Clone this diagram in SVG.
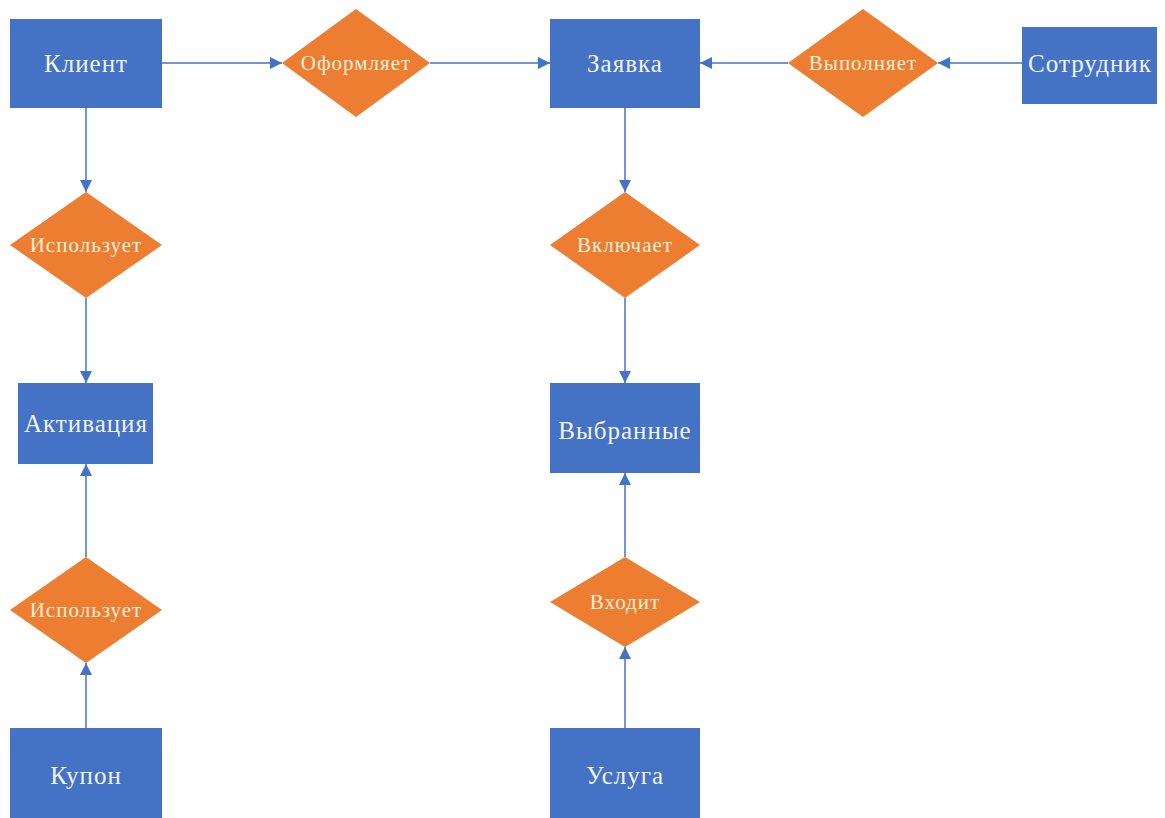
<svg xmlns="http://www.w3.org/2000/svg" width="1165" height="818" viewBox="0 0 1165 818">
<style>
.ent{fill:#4472C4}
.rel{fill:#ED7D31}
.et{font-family:"Liberation Serif","Times New Roman",serif;font-size:25px;letter-spacing:1px;fill:#F2F4FB;text-anchor:middle;dominant-baseline:central}
.rt{font-family:"Liberation Serif","Times New Roman",serif;font-size:21px;letter-spacing:1px;fill:#FFF0D8;text-anchor:middle;dominant-baseline:central}
.cn{stroke:#4472C4;stroke-width:1.5;fill:none;marker-end:url(#ah)}
</style>
<defs>
<marker id="ah" markerUnits="userSpaceOnUse" markerWidth="13" markerHeight="12" refX="12" refY="6" orient="auto">
<path d="M0,0 L12,6 L0,12 Z" fill="#4472C4"/>
</marker>
</defs>
<rect width="1165" height="818" fill="#FFFFFF"/>
<g id="connectors">
<line class="cn" x1="162" y1="63" x2="282" y2="63"/>
<line class="cn" x1="430" y1="63" x2="550" y2="63"/>
<line class="cn" x1="1022" y1="63" x2="938" y2="63"/>
<line class="cn" x1="788" y1="63" x2="700" y2="63"/>
<line class="cn" x1="86" y1="108" x2="86" y2="192"/>
<line class="cn" x1="86" y1="298" x2="86" y2="383"/>
<line class="cn" x1="86" y1="728" x2="86" y2="663"/>
<line class="cn" x1="86" y1="557" x2="86" y2="464"/>
<line class="cn" x1="625" y1="108" x2="625" y2="192"/>
<line class="cn" x1="625" y1="298" x2="625" y2="383"/>
<line class="cn" x1="625" y1="728" x2="625" y2="647"/>
<line class="cn" x1="625" y1="557" x2="625" y2="473"/>
</g>
<g id="n-klient"><rect class="ent" x="10" y="19" width="152" height="89"/><text class="et" x="86" y="63">Клиент</text></g>
<g id="n-oformlyaet"><polygon class="rel" points="356,9 430,63 356,117 282,63"/><text class="rt" x="356" y="63">Оформляет</text></g>
<g id="n-zayavka"><rect class="ent" x="550" y="19" width="150" height="89"/><text class="et" x="625" y="63">Заявка</text></g>
<g id="n-vypolnyaet"><polygon class="rel" points="863,9 938,63 863,117 788,63"/><text class="rt" x="863" y="63">Выполняет</text></g>
<g id="n-sotrudnik"><rect class="ent" x="1022" y="27" width="135" height="77"/><text class="et" x="1090" y="63">Сотрудник</text></g>
<g id="n-ispolzuet1"><polygon class="rel" points="86,192 162,245 86,298 10,245"/><text class="rt" x="86" y="245">Использует</text></g>
<g id="n-aktivaciya"><rect class="ent" x="18" y="383" width="135" height="81"/><text class="et" x="86" y="423">Активация</text></g>
<g id="n-ispolzuet2"><polygon class="rel" points="86,557 162,610 86,663 10,610"/><text class="rt" x="86" y="610">Использует</text></g>
<g id="n-kupon"><rect class="ent" x="10" y="728" width="152" height="90"/><text class="et" x="86" y="775">Купон</text></g>
<g id="n-vklyuchaet"><polygon class="rel" points="625,192 700,245 625,298 550,245"/><text class="rt" x="625" y="245">Включает</text></g>
<g id="n-vybrannye"><rect class="ent" x="550" y="383" width="150" height="90"/><text class="et" x="625" y="430">Выбранные</text></g>
<g id="n-vhodit"><polygon class="rel" points="625,557 700,602 625,647 550,602"/><text class="rt" x="625" y="602">Входит</text></g>
<g id="n-usluga"><rect class="ent" x="550" y="728" width="150" height="90"/><text class="et" x="625" y="775">Услуга</text></g>
</svg>
